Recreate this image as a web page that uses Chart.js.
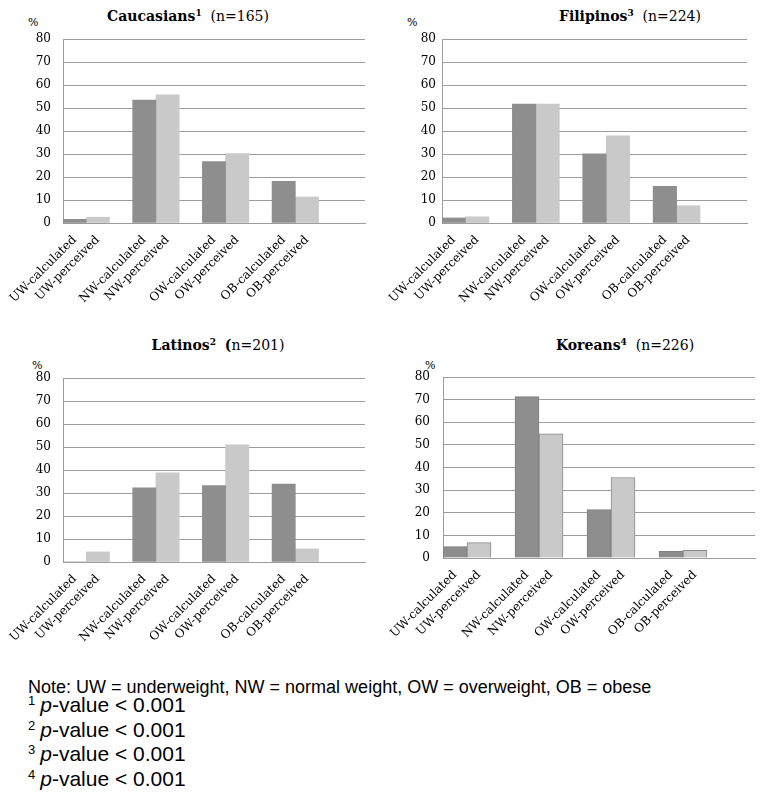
<!DOCTYPE html>
<html>
<head>
<meta charset="utf-8">
<script src="https://cdn.jsdelivr.net/npm/chart.js@4"></script>
<style>
  body { margin: 0; background: #fff; width: 764px; height: 805px; position: relative; overflow: hidden; }
  canvas { position: absolute; }
  .title { position: absolute; width: 260px; text-align: center; font-family: "DejaVu Serif", serif; font-size: 14px; line-height: 16px; color: #000; white-space: nowrap; }
  .title sup { font-size: 9px; vertical-align: 5px; line-height: 0; }
  .pct { position: absolute; font-family: "DejaVu Serif", serif; font-size: 11px; line-height: 12px; color: #000; }
  .note { position: absolute; left: 28px; font-family: "Liberation Sans", Arial, sans-serif; color: #000; white-space: nowrap; }
  .note.big { font-size: 21px; line-height: 21px; }
  .note sup { font-size: 13px; vertical-align: 7px; line-height: 0; margin-right: 5px; }
</style>
</head>
<body>

<div class="title" style="left:58px; top:8px;"><b>Caucasians<sup>1</sup></b>&nbsp; (n=165)</div>
<div class="title" style="left:500px; top:8px;"><b>Filipinos<sup>3</sup></b>&nbsp; (n=224)</div>
<div class="title" style="left:88px; top:337px;"><b>Latinos<sup>2</sup></b>&nbsp; <b>(</b>n=201)</div>
<div class="title" style="left:495px; top:337px;"><b>Koreans<sup>4</sup></b>&nbsp; (n=226)</div>

<div class="pct" style="left:28px; top:17px;">%</div>
<div class="pct" style="left:407px; top:17px;">%</div>
<div class="pct" style="left:32px; top:360px;">%</div>
<div class="pct" style="left:425px; top:360px;">%</div>

<canvas id="caucasians" width="382" height="320" style="left:0; top:0;"></canvas>
<canvas id="filipinos" width="382" height="320" style="left:382px; top:0;"></canvas>
<canvas id="latinos" width="382" height="340" style="left:0; top:320px;"></canvas>
<canvas id="koreans" width="382" height="340" style="left:382px; top:320px;"></canvas>

<div class="note" style="top:678px; font-size:18px; line-height:18px;">Note: UW = underweight, NW = normal weight, OW = overweight, OB = obese</div>
<div class="note big" style="top:694px;"><sup>1</sup><i>p</i>-value &lt; 0.001</div>
<div class="note big" style="top:719px;"><sup>2</sup><i>p</i>-value &lt; 0.001</div>
<div class="note big" style="top:743px;"><sup>3</sup><i>p</i>-value &lt; 0.001</div>
<div class="note big" style="top:768px;"><sup>4</sup><i>p</i>-value &lt; 0.001</div>

<script>
// x axis slots: calculated, perceived, then an empty gap slot
const categories = [
  'UW-calculated', 'UW-perceived', '',
  'NW-calculated', 'NW-perceived', '',
  'OW-calculated', 'OW-perceived', '',
  'OB-calculated', 'OB-perceived', '', ''
];
const yTicks = [0, 10, 20, 30, 40, 50, 60, 70, 80];

// percentages per group: UW, NW, OW, OB
const caucasiansCalc = [1.6, 53.4, 26.7, 18.1];
const caucasiansPerc = [2.5, 55.7, 30.2, 11.3];
const filipinosCalc = [2.2, 51.7, 30.1, 15.9];
const filipinosPerc = [2.7, 51.7, 37.9, 7.5];
const latinosCalc = [0, 32.3, 33.2, 33.9];
const latinosPerc = [4.4, 38.8, 50.9, 5.7];
const koreansCalc = [5.0, 71.3, 21.4, 2.9];
const koreansPerc = [6.8, 54.9, 35.6, 3.4];

const darkGray = '#8e8e8e';
const lightGray = '#c9c9c9';
const gridGray = '#9c9c9c';

// put each group's value in its slot, nulls elsewhere
function spread(values, offset) {
  const out = categories.map(() => null);
  values.forEach((v, i) => { out[i * 3 + offset] = v; });
  return out;
}

function makeChart(id, calc, perc, box) {
  const canvas = document.getElementById(id);
  const outline = box.outline ? 1 : 0;
  return new Chart(canvas.getContext('2d'), {
    type: 'bar',
    data: {
      labels: categories,
      datasets: [
        {
          label: 'calculated',
          data: spread(calc, 0),
          backgroundColor: darkGray,
          borderColor: '#808080',
          borderWidth: outline,
          barPercentage: 1,
          categoryPercentage: 1
        },
        {
          label: 'perceived',
          data: spread(perc, 1),
          backgroundColor: lightGray,
          borderColor: '#8a8a8a',
          borderWidth: outline,
          barPercentage: 1,
          categoryPercentage: 1
        }
      ]
    },
    options: {
      responsive: false,
      animation: false,
      devicePixelRatio: 1,
      layout: {
        padding: { left: 0, top: box.top, right: canvas.width - box.right, bottom: 0 }
      },
      plugins: {
        legend: { display: false },
        tooltip: { enabled: false }
      },
      scales: {
        x: {
          stacked: true,
          grid: { display: false },
          border: { display: true, color: gridGray, width: 1 },
          ticks: {
            autoSkip: false,
            minRotation: 45,
            maxRotation: 45,
            padding: 2,
            color: '#000',
            font: { family: 'DejaVu Serif', size: 12 }
          },
          afterFit: s => { s.height = canvas.height - box.bottom; }
        },
        y: {
          stacked: true,
          min: 0,
          max: 80,
          afterBuildTicks: s => { s.ticks = yTicks.map(v => ({ value: v })); },
          grid: { color: gridGray, lineWidth: 1, drawTicks: false },
          border: { display: true, color: gridGray, width: 1 },
          ticks: {
            padding: box.pad,
            color: '#000',
            font: { family: 'DejaVu Serif', size: 12 }
          },
          afterFit: s => { s.width = box.left; }
        }
      }
    }
  });
}

makeChart('caucasians', caucasiansCalc, caucasiansPerc, { left: 63, right: 365, top: 39, bottom: 223, pad: 12 });
makeChart('filipinos', filipinosCalc, filipinosPerc, { left: 60, right: 365, top: 39, bottom: 223, pad: 6 });
makeChart('latinos', latinosCalc, latinosPerc, { left: 63, right: 365, top: 58, bottom: 242, pad: 12 });
makeChart('koreans', koreansCalc, koreansPerc, { left: 61, right: 373, top: 57, bottom: 238, pad: 13, outline: true });
</script>
</body>
</html>
